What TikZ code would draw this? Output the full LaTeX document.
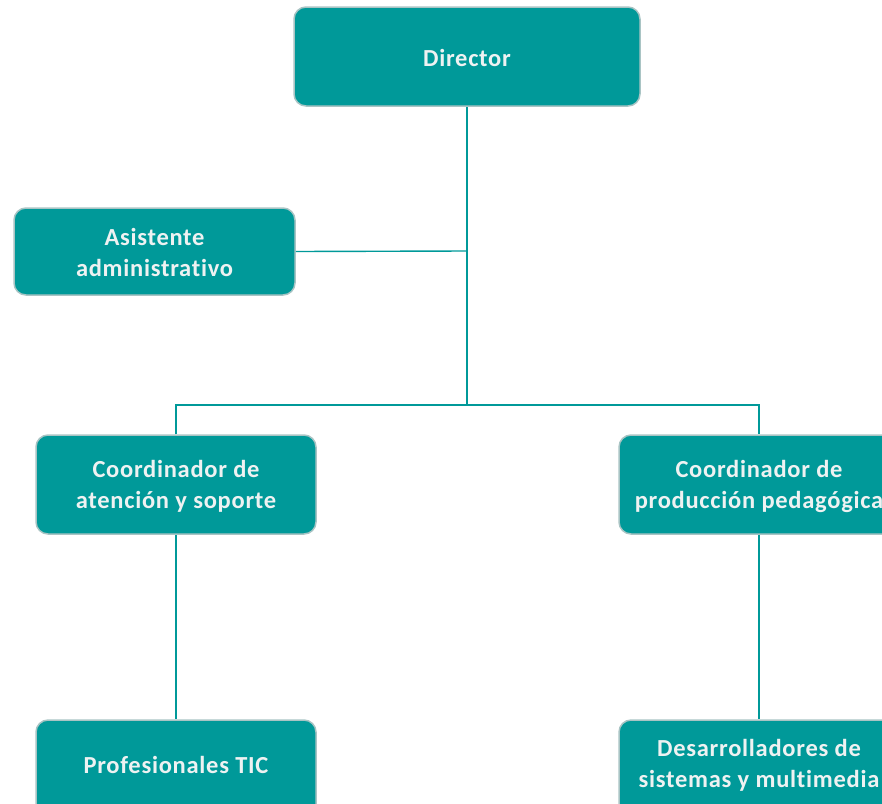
\documentclass[tikz,border=0pt]{standalone}
\usepackage{fontspec}
\setmainfont{Carlito}[Ligatures={NoCommon},LetterSpace=3]
\definecolor{teal1}{HTML}{009999}
\definecolor{edge1}{HTML}{A9C4C4}
\definecolor{txt1}{HTML}{EEF2F2}
\begin{document}
\begin{tikzpicture}[x=1pt,y=-1pt,
  box/.style={draw=edge1,line width=1.5pt,fill=teal1,rounded corners=12pt,inner sep=0pt},
  lbl/.style={text=txt1,font=\fontsize{24.5}{31}\selectfont\bfseries,align=center},
  conn/.style={draw=teal1,line width=1.4pt}]
\useasboundingbox (0,0) rectangle (882,803);
\clip (0,0) rectangle (882,803);
% boxes
\node[box,minimum width=346pt,minimum height=99pt] (dir) at (467,56.5) {};
\node[box,minimum width=281pt,minimum height=87pt] (asi) at (154.5,251.5) {};
\node[box,minimum width=280pt,minimum height=99pt] (cas) at (176,484.5) {};
\node[box,minimum width=280pt,minimum height=99pt] (cpp) at (759,484.5) {};
\node[box,minimum width=280pt,minimum height=99pt] (pro) at (176,769.5) {};
\node[box,minimum width=280pt,minimum height=99pt] (des) at (759,769.5) {};
% labels
\node[lbl] (tdir) at (467,58) {Director};
\node[lbl] (tasi) at (154.5,252) {Asistente\\administrativo};
\node[lbl] (tcas) at (176,486) {Coordinador de\\atención y soporte};
\node[lbl] (tcpp) at (759,486) {Coordinador de\\producción pedagógica};
\node[lbl] (tpro) at (176,765) {Profesionales TIC};
\node[lbl] (tdes) at (759,765) {Desarrolladores de\\sistemas y multimedia};
% connectors
\coordinate (j1) at (467,251);
\coordinate (j2) at (467,405);
\draw[conn] (dir.south) -- (j2);
\draw[conn] (asi.east) -- (j1);
\draw[conn] (cas.north) |- (j2) -| (cpp.north);
\draw[conn] (cas.south) -- (pro.north);
\draw[conn] (cpp.south) -- (des.north);
\end{tikzpicture}
\end{document}
